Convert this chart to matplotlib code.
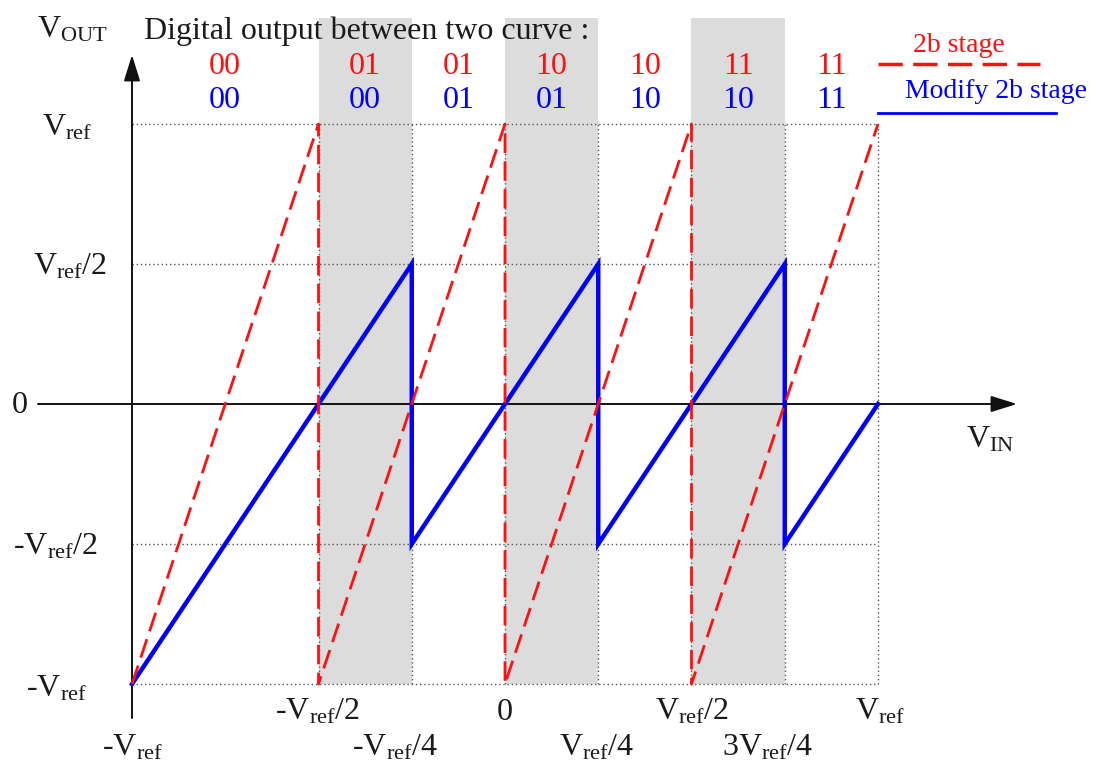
import numpy as np
import matplotlib
matplotlib.use("Agg")
import matplotlib.pyplot as plt

plt.rcParams['font.family'] = ['Liberation Serif', 'DejaVu Serif']
plt.rcParams['mathtext.fontset'] = 'custom'
plt.rcParams['mathtext.rm'] = 'Liberation Serif'
plt.rcParams['mathtext.it'] = 'Liberation Serif:italic'

# Transfer curves (x = Vin/Vref, y = Vout/Vref)
red_x = [-1, -0.5, -0.5, 0, 0, 0.5, 0.5, 1]
red_y = [-1, 1, -1, 1, -1, 1, -1, 1]
blue_x = [-1, -0.25, -0.25, 0.25, 0.25, 0.75, 0.75, 1]
blue_y = [-1, 0.5, -0.5, 0.5, -0.5, 0.5, -0.5, 0]

# region boundaries and digital codes
edges = [-1, -0.5, -0.25, 0, 0.25, 0.5, 0.75, 1]
red_codes = ['00', '01', '01', '10', '10', '11', '11']
blue_codes = ['00', '00', '01', '01', '10', '10', '11']
shade_spans = [(-0.5, -0.25), (0, 0.25), (0.5, 0.75)]

grid_y = [1, 0.5, -0.5, -1]
grid_x = [-0.5, -0.25, 0, 0.25, 0.5, 0.75, 1]

VR = r'V$_\mathrm{ref}$'
ytick_labels = [(1, VR, 67, 128),
                (0.5, VR + '/2', 70, 267),
                (0, '0', 20, 405),
                (-0.5, '-' + VR + '/2', 55, 547),
                (-1, '-' + VR, 56, 689)]
xtick_row1 = [(-0.5, '-' + VR + '/2', 317),
              (0, '0', 505),
              (0.5, VR + '/2', 692),
              (1, VR, 880)]
xtick_row2 = [(-1, '-' + VR, 132),
              (-0.25, '-' + VR + '/4', 395),
              (0.25, VR + '/4', 597),
              (0.75, '3' + VR + '/4', 768)]

W, H = 1096, 769
X0, X1 = 132, 878          # pixel columns of -Vref and +Vref
Y0, UNIT = 404, 280        # pixel row of 0, pixels per Vref
sx = (X1 - X0) / 2.0

def px(x, y):
    return x / W, 1 - y / H

fig = plt.figure(figsize=(W / 100, H / 100), dpi=100)
ax = fig.add_axes([0, 0, 1, 1])
ax.set_xlim(-1 - X0 / sx, -1 + (W - X0) / sx)
ax.set_ylim(-(H - Y0) / UNIT, Y0 / UNIT)
ax.axis('off')

top = (Y0 - 18) / UNIT
for a, b in shade_spans:
    ax.fill_between([a, b], -1, top, color='#dcdcdc', lw=0, zorder=0)

ax.hlines(grid_y, -1, 1, colors='#555555', linestyles=(0, (1, 2)), lw=1.0, zorder=1)
ax.vlines(grid_x, -1, 1, colors='#555555', linestyles=(0, (1, 2)), lw=1.0, zorder=1)

# axes with arrows
ax.annotate('', xy=(-1 + (1017 - X0) / sx, 0), xytext=(-1 + (38 - X0) / sx, 0),
            arrowprops=dict(arrowstyle='-|>,head_length=1.6,head_width=0.5',
                            color='#111111', lw=1.4, shrinkA=0, shrinkB=0), zorder=2)
ax.annotate('', xy=(-1, (Y0 - 55) / UNIT), xytext=(-1, (Y0 - 718) / UNIT),
            arrowprops=dict(arrowstyle='-|>,head_length=1.6,head_width=0.5',
                            color='#111111', lw=1.4, shrinkA=0, shrinkB=0), zorder=2)

ax.plot(blue_x, blue_y, color='#0000ff', lw=3.2, zorder=3, solid_joinstyle='miter')
ax.plot(red_x, red_y, color='#ff1010', lw=2.0, dashes=(7, 3), zorder=4)

# codes
for i in range(len(red_codes)):
    cx = (edges[i] + edges[i + 1]) / 2
    ax.text(cx, (Y0 - 66) / UNIT, red_codes[i], color='#ff1010', fontsize=23,
            ha='center', va='center')
    ax.text(cx, (Y0 - 100) / UNIT, blue_codes[i], color='#0000ff', fontsize=23,
            ha='center', va='center')

tc = '#1a1a1a'
fig.text(*px(72, 30), r'V$_\mathrm{OUT}$', fontsize=23, color=tc, ha='center', va='center')
fig.text(*px(144, 31), 'Digital output between two curve :', fontsize=23, color=tc,
         ha='left', va='center')
fig.text(*px(990, 440), r'V$_\mathrm{IN}$', fontsize=23, color=tc, ha='center', va='center')

for _, lab, x, y in ytick_labels:
    fig.text(*px(x, y), lab, fontsize=23, color=tc, ha='center', va='center')
for _, lab, x in xtick_row1:
    fig.text(*px(x, 712), lab, fontsize=23, color=tc, ha='center', va='center')
for _, lab, x in xtick_row2:
    fig.text(*px(x, 748), lab, fontsize=23, color=tc, ha='center', va='center')

# legend
fig.text(*px(959, 45), '2b stage', fontsize=20, color='#ff1010', ha='center', va='center')
fig.add_artist(plt.Line2D([878 / W, 1040 / W], [1 - 64 / H, 1 - 64 / H],
                          color='#ff1010', lw=2.5, dashes=(7, 3)))
fig.text(*px(996, 92), 'Modify 2b stage', fontsize=20, color='#0000ff', ha='center', va='center')
fig.add_artist(plt.Line2D([878 / W, 1056 / W], [1 - 113 / H, 1 - 113 / H],
                          color='#0000ff', lw=2.0))

fig.savefig('out.png', dpi=100, facecolor='white')
